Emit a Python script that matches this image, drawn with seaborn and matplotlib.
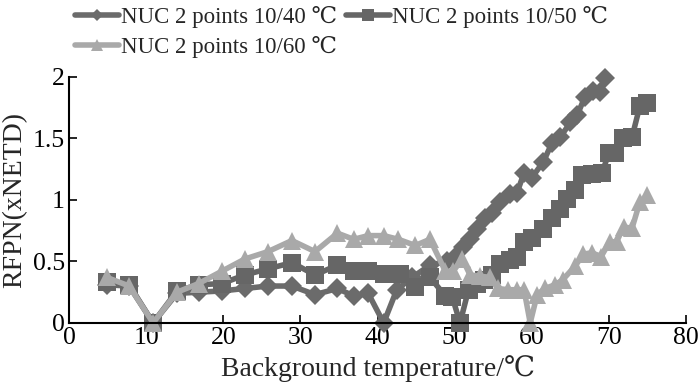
import pandas as pd
import matplotlib
matplotlib.use("Agg")
import matplotlib.pyplot as plt
import seaborn as sns

# NUC 2 points 10/40 C
x_40 = [4.9, 7.8, 10.9, 14.0, 16.8, 19.8, 22.8, 25.8, 28.9, 31.9, 34.8, 36.9, 38.8, 40.8,
        42.5, 44.5, 46.8, 49.0, 50.0, 51.1, 52.0, 52.9, 54.0, 54.9, 55.9, 57.2, 58.1, 59.0,
        60.0, 61.5, 62.6, 63.7, 65.0, 65.9, 66.9, 68.0, 68.9, 69.5]
y_40 = [0.31, 0.30, 0.0, 0.24, 0.25, 0.26, 0.28, 0.30, 0.30, 0.23, 0.28, 0.22, 0.24, 0.0,
        0.27, 0.37, 0.47, 0.50, 0.54, 0.62, 0.68, 0.76, 0.85, 0.89, 0.98, 1.05, 1.06, 1.22,
        1.18, 1.31, 1.46, 1.51, 1.63, 1.69, 1.84, 1.89, 1.88, 1.99]

# NUC 2 points 10/50 C
x_50 = [4.9, 7.8, 10.9, 14.0, 16.8, 19.8, 22.8, 25.8, 28.9, 31.9, 34.8, 36.9, 38.8, 40.8,
        42.9, 44.9, 46.8, 48.8, 49.7, 50.7, 51.8, 52.9, 53.8, 54.9, 55.9, 57.2, 58.1, 59.0,
        60.0, 61.5, 62.6, 63.7, 64.6, 65.6, 66.5, 67.8, 69.1, 70.0, 70.8, 71.8, 73.0, 74.0, 75.0]
y_50 = [0.33, 0.31, 0.0, 0.26, 0.31, 0.32, 0.39, 0.44, 0.49, 0.39, 0.47, 0.42, 0.42, 0.40,
        0.40, 0.29, 0.37, 0.22, 0.21, 0.0, 0.27, 0.32, 0.35, 0.39, 0.48, 0.51, 0.54, 0.66,
        0.69, 0.76, 0.85, 0.93, 1.01, 1.08, 1.20, 1.21, 1.22, 1.38, 1.38, 1.50, 1.51, 1.76, 1.79]

# NUC 2 points 10/60 C
x_60 = [4.9, 7.8, 10.9, 14.0, 16.8, 19.8, 22.8, 25.8, 28.9, 31.9, 34.8, 36.9, 38.8, 40.8,
        42.7, 44.9, 46.8, 48.8, 49.8, 51.0, 52.0, 53.3, 54.6, 55.6, 56.9, 58.1, 59.0, 59.8,
        60.7, 61.7, 63.0, 64.0, 65.6, 66.7, 67.8, 69.0, 70.1, 71.0, 71.9, 73.0, 74.0, 75.0]
y_60 = [0.37, 0.30, 0.0, 0.25, 0.32, 0.42, 0.52, 0.58, 0.67, 0.58, 0.73, 0.68, 0.71, 0.71,
        0.68, 0.63, 0.68, 0.42, 0.42, 0.52, 0.39, 0.38, 0.37, 0.28, 0.27, 0.27, 0.27, 0.0,
        0.23, 0.28, 0.31, 0.35, 0.46, 0.56, 0.57, 0.54, 0.66, 0.66, 0.78, 0.77, 0.98, 1.04]

labels = ["NUC 2 points 10/40 ℃", "NUC 2 points 10/50 ℃", "NUC 2 points 10/60 ℃"]

sns.set_style("ticks")
plt.rcParams["font.family"] = ["Liberation Serif", "DejaVu Serif"]

fig = plt.figure(figsize=(7, 3.9), dpi=100)
ax = fig.add_axes([0.0986, 0.172, 0.8814, 0.6306])

series = [
    (x_40, y_40, labels[0], "#6b6b6b", "D", 10),
    (x_50, y_50, labels[1], "#666666", "s", 12.5),
    (x_60, y_60, labels[2], "#a9a9a9", "^", 12.5),
]
for xs, ys, lab, col, mk, ms in series:
    df = pd.DataFrame({"t": xs, "rfpn": ys})
    sns.lineplot(data=df, x="t", y="rfpn", ax=ax, color=col, marker=mk,
                 markersize=ms, markeredgewidth=0, linewidth=4, label=lab,
                 estimator=None, sort=False)

for line in ax.lines:
    line.set_clip_on(False)

ax.set_xlim(0, 80)
ax.set_ylim(0, 2)
ax.set_xticks(range(0, 81, 10))
ax.set_yticks([0, 0.5, 1, 1.5, 2])
ax.set_yticklabels(["0", "0.5", "1", "1.5", "2"])
ax.tick_params(direction="in", length=6, width=1.2, labelsize=18.5, colors="black", pad=3)
for s in ["top", "right"]:
    ax.spines[s].set_visible(False)
for s in ["left", "bottom"]:
    ax.spines[s].set_linewidth(1.5)
    ax.spines[s].set_color("black")

ax.set_xlabel("Background temperature/℃", fontsize=20, labelpad=4)
ax.set_ylabel("RFPN(xNETD)", fontsize=20, labelpad=4)

# legend filled row by row: 40, 50 on top, 60 below
h, l = ax.get_legend_handles_labels()
order = [0, 2, 1]
ax.legend([h[i] for i in order], [l[i] for i in order],
          loc="upper left", bbox_to_anchor=(0.088, 1.02), bbox_transform=fig.transFigure,
          ncol=2, frameon=False, fontsize=16.5, handlelength=1.9, handletextpad=0.1,
          columnspacing=0.4, labelspacing=0.35, markerscale=0.65, borderpad=0.1)

fig.savefig("out.png", dpi=100)
